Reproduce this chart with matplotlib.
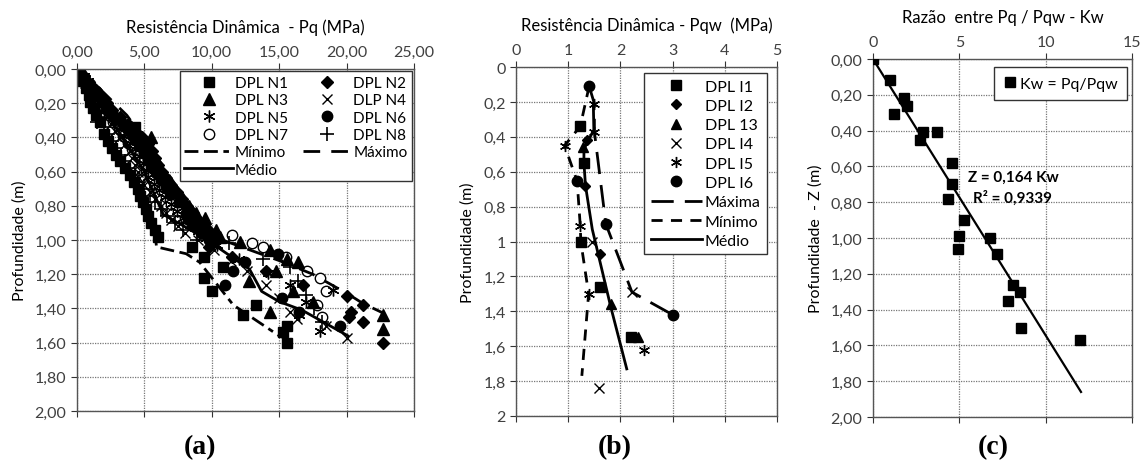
import numpy as np
import matplotlib
matplotlib.use('Agg')
from matplotlib import pyplot as plt

plt.rcParams['font.family'] = ['Lato', 'DejaVu Sans']
plt.rcParams['font.size'] = 11.5

# ---- panel (a): Pq vs depth, DPL N1..N8 ----
n1_d = [0.00, 0.03, 0.07, 0.11, 0.15, 0.19, 0.23, 0.27, 0.31, 0.34, 0.38, 0.42, 0.46, 0.50, 0.54, 0.58, 0.62, 0.66, 0.70, 0.74, 0.78, 0.82, 0.86, 0.90, 0.94, 0.98, 1.04, 1.10, 1.16, 1.22, 1.30, 1.38, 1.44, 1.50, 1.54, 1.60]
n1_v = [0.0, 0.2, 0.4, 0.7, 0.9, 1.0, 1.2, 1.4, 1.7, 4.3, 2.0, 2.3, 2.6, 2.9, 3.2, 3.6, 3.9, 4.2, 4.5, 4.7, 4.9, 5.1, 5.3, 5.5, 5.8, 6.0, 8.5, 9.4, 10.8, 9.4, 10.0, 13.3, 12.3, 15.6, 15.3, 15.6]
n2_d = [0.00, 0.04, 0.08, 0.12, 0.16, 0.20, 0.24, 0.28, 0.32, 0.36, 0.40, 0.44, 0.48, 0.52, 0.56, 0.60, 0.64, 0.68, 0.72, 0.76, 0.80, 0.84, 0.88, 0.92, 0.96, 1.00, 1.04, 1.10, 1.18, 1.26, 1.33, 1.38, 1.42, 1.45, 1.48, 1.60]
n2_v = [0.1, 0.5, 0.9, 1.4, 1.8, 2.2, 2.6, 3.2, 3.8, 4.3, 4.8, 5.3, 5.6, 5.8, 6.0, 6.3, 6.6, 7.0, 7.4, 7.8, 8.2, 8.6, 9.0, 9.4, 9.8, 10.3, 9.8, 11.5, 14.0, 16.8, 20.0, 21.2, 20.3, 20.2, 21.2, 22.7]
n3_d = [0.00, 0.03, 0.06, 0.10, 0.14, 0.18, 0.22, 0.26, 0.30, 0.34, 0.40, 0.44, 0.48, 0.52, 0.56, 0.60, 0.64, 0.68, 0.72, 0.76, 0.80, 0.84, 0.87, 0.90, 0.94, 0.98, 1.01, 1.06, 1.11, 1.13, 1.18, 1.24, 1.30, 1.36, 1.42, 1.44, 1.52]
n3_v = [0.1, 0.4, 0.7, 1.1, 1.5, 1.9, 2.3, 2.8, 3.4, 4.0, 5.5, 5.0, 5.4, 5.7, 5.9, 6.2, 6.5, 6.9, 7.4, 7.9, 8.3, 8.8, 9.5, 9.0, 10.3, 10.6, 12.1, 14.3, 15.6, 16.4, 14.8, 12.8, 16.0, 17.5, 14.3, 22.7, 22.7]
n4_d = [0.00, 0.04, 0.08, 0.12, 0.16, 0.20, 0.24, 0.28, 0.32, 0.36, 0.40, 0.44, 0.48, 0.52, 0.56, 0.60, 0.64, 0.68, 0.72, 0.76, 0.80, 0.84, 0.88, 0.92, 0.96, 1.00, 1.06, 1.12, 1.18, 1.26, 1.34, 1.42, 1.46, 1.50, 1.57]
n4_v = [0.0, 0.3, 0.6, 1.0, 1.3, 1.6, 1.9, 2.2, 2.5, 2.8, 3.2, 3.6, 3.9, 4.1, 4.3, 4.5, 4.6, 5.0, 5.4, 5.8, 6.2, 6.6, 7.0, 7.5, 8.0, 9.0, 10.2, 11.4, 12.6, 14.0, 15.0, 15.8, 16.3, 18.5, 20.0]
n5_d = [0.00, 0.04, 0.07, 0.11, 0.15, 0.19, 0.23, 0.27, 0.31, 0.35, 0.39, 0.43, 0.47, 0.51, 0.55, 0.59, 0.63, 0.67, 0.71, 0.75, 0.79, 0.83, 0.87, 0.91, 0.95, 0.99, 1.03, 1.11, 1.19, 1.26, 1.29, 1.36, 1.44, 1.53]
n5_v = [0.2, 0.5, 0.8, 1.1, 1.5, 1.8, 2.1, 2.4, 2.8, 3.1, 3.5, 3.9, 4.3, 4.6, 4.9, 5.1, 5.3, 5.7, 6.1, 6.5, 7.0, 7.4, 7.9, 8.4, 9.0, 9.6, 10.4, 12.0, 14.2, 15.8, 19.0, 17.0, 16.5, 18.0]
n6_d = [0.00, 0.05, 0.09, 0.13, 0.17, 0.21, 0.25, 0.29, 0.33, 0.37, 0.41, 0.45, 0.49, 0.53, 0.57, 0.61, 0.65, 0.69, 0.73, 0.78, 0.84, 0.88, 0.92, 0.96, 1.00, 1.08, 1.13, 1.18, 1.26, 1.34, 1.42, 1.50]
n6_v = [0.1, 0.5, 1.0, 1.4, 1.8, 2.2, 2.6, 3.0, 3.5, 3.9, 4.3, 4.7, 5.0, 5.3, 5.6, 5.9, 6.2, 6.6, 7.0, 7.6, 8.1, 8.3, 8.6, 9.2, 9.8, 14.9, 12.5, 11.6, 11.0, 15.2, 16.5, 19.5]
n7_d = [0.00, 0.05, 0.09, 0.12, 0.16, 0.19, 0.23, 0.27, 0.31, 0.35, 0.39, 0.43, 0.47, 0.51, 0.55, 0.59, 0.63, 0.67, 0.71, 0.75, 0.79, 0.83, 0.87, 0.91, 0.97, 1.02, 1.04, 1.10, 1.18, 1.22, 1.30, 1.38, 1.45]
n7_v = [0.0, 0.5, 0.8, 1.1, 1.4, 1.6, 2.0, 2.4, 2.7, 3.1, 3.4, 3.8, 4.1, 4.5, 4.8, 5.1, 5.4, 5.8, 6.2, 6.6, 7.0, 7.5, 8.0, 8.6, 11.5, 13.0, 13.8, 15.5, 17.1, 18.0, 18.5, 17.8, 18.2]
n8_d = [0.00, 0.04, 0.08, 0.12, 0.16, 0.20, 0.24, 0.28, 0.31, 0.34, 0.38, 0.42, 0.46, 0.50, 0.54, 0.58, 0.62, 0.66, 0.70, 0.74, 0.78, 0.82, 0.86, 0.90, 0.94, 1.00, 1.02, 1.11, 1.16, 1.24, 1.32, 1.40, 1.48]
n8_v = [0.3, 0.5, 0.7, 0.9, 1.1, 1.3, 1.5, 1.7, 1.5, 2.0, 2.3, 2.6, 2.9, 3.3, 3.6, 3.9, 4.3, 4.6, 5.0, 5.4, 5.8, 6.2, 6.7, 7.3, 7.9, 8.9, 11.3, 13.8, 15.8, 16.4, 17.0, 17.6, 18.2]

min_a_d = [0.00, 0.30, 0.60, 0.80, 0.96, 1.04, 1.08, 1.13, 1.23, 1.38, 1.56, 1.57]
min_a_v = [0.0, 1.6, 3.8, 4.9, 5.8, 5.9, 8.1, 9.1, 10.1, 11.6, 15.0, 15.3]
max_a_d = [0.00, 0.27, 0.51, 0.77, 1.00, 1.12, 1.20, 1.32, 1.37, 1.43]
max_a_v = [0.2, 3.7, 5.9, 8.1, 10.8, 15.0, 17.5, 20.2, 21.2, 22.8]
med_a_d = [0.00, 0.20, 0.40, 0.60, 0.85, 0.98, 1.10, 1.17, 1.30, 1.36, 1.41, 1.56]
med_a_v = [0.1, 1.6, 3.4, 5.0, 6.4, 9.3, 11.5, 12.8, 13.7, 15.0, 16.7, 20.1]

# ---- panel (b): Pqw vs depth, DPL I1..I6 ----
i1_v = [1.23, 1.30, 1.24, 1.60, 2.20]
i1_d = [0.34, 0.55, 1.00, 1.26, 1.55]
i2_v = [1.35, 1.33, 1.60]
i2_d = [0.42, 0.68, 1.07]
i3_v = [1.28, 1.81, 2.33]
i3_d = [0.46, 1.36, 1.55]
i4_v = [1.46, 2.22, 1.58]
i4_d = [1.00, 1.29, 1.84]
i5_v = [1.50, 1.50, 0.93, 1.23, 1.39, 2.45]
i5_d = [0.21, 0.37, 0.45, 0.91, 1.30, 1.62]
i6_v = [1.40, 1.17, 1.72, 3.00]
i6_d = [0.11, 0.655, 0.90, 1.42]

max_b_v = [1.40, 1.50, 1.50, 1.72, 2.22, 3.00]
max_b_d = [0.11, 0.21, 0.37, 0.90, 1.29, 1.42]
min_b_v = [1.40, 1.23, 0.93, 1.17, 1.23, 1.24, 1.39, 1.26]
min_b_d = [0.11, 0.34, 0.45, 0.655, 0.91, 1.00, 1.30, 1.77]
med_b_v = [1.48, 1.49, 1.30, 1.30, 1.33, 1.46, 1.81, 2.12]
med_b_d = [0.21, 0.36, 0.47, 0.55, 0.68, 0.93, 1.37, 1.73]

# ---- panel (c): Kw = Pq/Pqw vs depth ----
kw = [0.0, 1.0, 1.8, 1.95, 1.2, 2.9, 3.7, 2.7, 4.55, 4.6, 4.35, 5.3, 5.0, 6.8, 4.95, 7.2, 8.1, 8.5, 7.8, 8.55, 12.0]
kw_z = [0.0, 0.12, 0.22, 0.26, 0.31, 0.41, 0.41, 0.45, 0.58, 0.70, 0.78, 0.90, 0.99, 1.00, 1.06, 1.09, 1.26, 1.30, 1.35, 1.50, 1.57]
fit_kw = [0.0, 12.05]
fit_z = [0.0, 1.86]

star = (6, 2, 0)
grid_kw = dict(color='#777777', linestyle=(0, (1, 1)), linewidth=0.9)


def style_axes(ax, xlim, xticks, xlabels, yticks, ylabels, xtitle, ytitle):
    ax.set_xlim(xlim)
    ax.set_ylim(2.0, 0.0)
    ax.set_xticks(xticks)
    ax.set_xticklabels(xlabels)
    ax.set_yticks(yticks)
    ax.set_yticklabels(ylabels)
    ax.xaxis.set_label_position('top')
    ax.set_xlabel(xtitle, labelpad=9, fontsize=12)
    ax.set_ylabel(ytitle, fontsize=11.5, labelpad=6)
    ax.tick_params(axis='x', top=True, labeltop=True, bottom=True, labelbottom=False,
                   direction='out', length=4, colors='#333333', labelcolor='#404040', labelsize=11.5)
    ax.tick_params(axis='y', direction='out', length=4, colors='#333333', labelcolor='#404040', labelsize=11.5)
    ax.grid(True, **grid_kw)
    ax.set_axisbelow(True)
    for s in ax.spines.values():
        s.set_color('#555555')
        s.set_linewidth(1.0)


fig = plt.figure(figsize=(11.45, 4.64), dpi=100)

# ---------------- (a) ----------------
ax1 = fig.add_axes([0.0672, 0.112, 0.2943, 0.737])
style_axes(ax1, (0, 25), [0, 5, 10, 15, 20, 25], ['0,00', '5,00', '10,00', '15,00', '20,00', '25,00'],
           np.arange(0, 2.01, 0.2), ['0,00', '0,20', '0,40', '0,60', '0,80', '1,00', '1,20', '1,40', '1,60', '1,80', '2,00'],
           'Resistência Dinâmica  - Pq (MPa)', 'Profundidade (m)')
ms = 7.5
# open circles first so the filled markers sit on top of them
h_n7, = ax1.plot(n7_v, n7_d, 'o', mfc='white', mec='black', ms=ms, mew=1.0, label='DPL N7')
h_n1, = ax1.plot(n1_v, n1_d, 's', color='black', ms=ms, label='DPL N1')
h_n2, = ax1.plot(n2_v, n2_d, 'D', color='black', ms=ms - 1, label='DPL N2')
h_n3, = ax1.plot(n3_v, n3_d, '^', color='black', ms=ms + 0.5, label='DPL N3')
h_n4, = ax1.plot(n4_v, n4_d, 'x', color='black', ms=ms, mew=1.0, label='DLP N4')
h_n5, = ax1.plot(n5_v, n5_d, marker=star, ls='none', color='black', ms=ms + 1, mew=1.0, label='DPL N5')
h_n6, = ax1.plot(n6_v, n6_d, 'o', color='black', ms=ms, label='DPL N6')
h_n8, = ax1.plot(n8_v, n8_d, '+', color='black', ms=ms + 2, mew=1.2, label='DPL N8')
h_min, = ax1.plot(min_a_v, min_a_d, color='black', lw=2, dashes=(5, 2, 5, 2, 2, 2), label='Mínimo')
h_max, = ax1.plot(max_a_v, max_a_d, color='black', lw=2, dashes=(6, 4), label='Máximo')
h_med, = ax1.plot(med_a_v, med_a_d, color='black', lw=2, label='Médio')
handles = [h_n1, h_n3, h_n5, h_n7, h_min, h_med, h_n2, h_n4, h_n6, h_n8, h_max]
leg = ax1.legend(handles=handles, ncol=2, loc='upper right', bbox_to_anchor=(0.995, 0.993),
                 borderaxespad=0, fancybox=False, edgecolor='#333333', framealpha=1,
                 fontsize=11, handlelength=3.2, labelspacing=0.22, columnspacing=1.0,
                 handletextpad=0.1, borderpad=0.3)
leg.get_frame().set_linewidth(1.0)

# ---------------- (b) ----------------
ax2 = fig.add_axes([0.4507, 0.1013, 0.228, 0.7521])
style_axes(ax2, (0, 5), [0, 1, 2, 3, 4, 5], ['0', '1', '2', '3', '4', '5'],
           np.arange(0, 2.01, 0.2), ['0', '0,2', '0,4', '0,6', '0,8', '1', '1,2', '1,4', '1,6', '1,8', '2'],
           'Resistência Dinâmica - Pqw  (MPa)', 'Profundidade (m)')
ms2 = 7
ax2.plot(max_b_v, max_b_d, color='black', lw=2, dashes=(8, 4), label='Máxima', zorder=2)
ax2.plot(min_b_v, min_b_d, color='black', lw=2, dashes=(4, 3), label='Mínimo', zorder=2)
ax2.plot(med_b_v, med_b_d, color='black', lw=2, label='Médio', zorder=2)
ax2.plot(i1_v, i1_d, 's', color='black', ms=ms2, label='DPL I1', zorder=3)
ax2.plot(i2_v, i2_d, 'D', color='black', ms=ms2 - 2, label='DPL I2', zorder=3)
ax2.plot(i3_v, i3_d, '^', color='black', ms=ms2, label='DPL 13', zorder=3)
ax2.plot(i4_v, i4_d, 'x', color='black', ms=ms2, mew=1.0, label='DPL I4', zorder=3)
ax2.plot(i5_v, i5_d, marker=star, ls='none', color='black', ms=ms2 + 1, mew=1.0, label='DPL I5', zorder=3)
ax2.plot(i6_v, i6_d, 'o', color='black', ms=ms2 + 0.5, label='DPL I6', zorder=3)
h2, l2 = ax2.get_legend_handles_labels()
order = [3, 4, 5, 6, 7, 8, 0, 1, 2]
leg2 = ax2.legend([h2[i] for i in order], [l2[i] for i in order], loc='upper right',
                  bbox_to_anchor=(0.962, 0.983), borderaxespad=0, fancybox=False,
                  edgecolor='#333333', framealpha=1, fontsize=11.5, handlelength=3.2,
                  labelspacing=0.32, handletextpad=0.2, borderpad=0.4)
leg2.get_frame().set_linewidth(1.0)

# ---------------- (c) ----------------
ax3 = fig.add_axes([0.7624, 0.0991, 0.2262, 0.7716])
style_axes(ax3, (0, 15), [0, 5, 10, 15], ['0', '5', '10', '15'],
           np.arange(0, 2.01, 0.2), ['0,00', '0,20', '0,40', '0,60', '0,80', '1,00', '1,20', '1,40', '1,60', '1,80', '2,00'],
           'Razão  entre Pq / Pqw - Kw', 'Profundidade  - Z (m)')
ax3.plot(kw, kw_z, 's', color='black', ms=7.5, label='Kw = Pq/Pqw', zorder=3)
ax3.plot(fit_kw, fit_z, color='black', lw=1.6, zorder=2)
leg3 = ax3.legend(loc='upper right', bbox_to_anchor=(0.981, 0.978), borderaxespad=0,
                  fancybox=False, edgecolor='#333333', framealpha=1, fontsize=11.5,
                  handlelength=0.8, handletextpad=0.2, borderpad=0.6)
leg3.get_frame().set_linewidth(1.0)
ax3.text(5.5, 0.66, 'Z = 0,164 Kw', fontsize=11, fontweight='bold', va='center')
ax3.text(5.8, 0.77, 'R² = 0,9339', fontsize=11, fontweight='bold', va='center')

# panel letters
for x, s in [(200, '(a)'), (615, '(b)'), (993, '(c)')]:
    fig.text(x / 1145, 1 - 448 / 464, s, ha='center', va='center',
             family='Liberation Serif', fontweight='bold', fontsize=20)

fig.savefig('out.png', dpi=100, facecolor='white')
